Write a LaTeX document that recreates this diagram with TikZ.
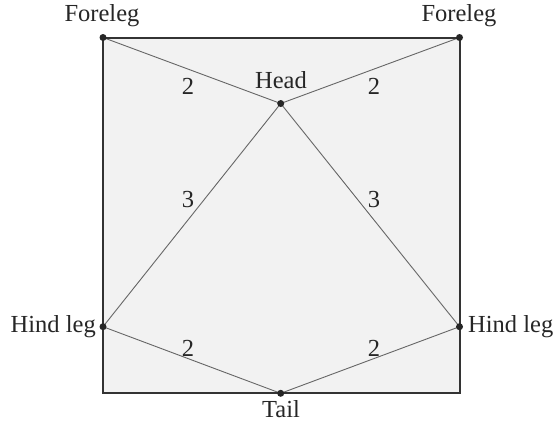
\documentclass[tikz,border=0pt]{standalone}
\usepackage{fontspec}
\setmainfont{Liberation Serif}
\begin{document}
\begin{tikzpicture}[x=1pt,y=-1pt,
  dot/.style={circle,fill=black!85,inner sep=0pt,minimum size=7pt},
  edge/.style={draw=black!60,line width=0.9pt},
  lbl/.style={font=\fontsize{24.5}{28}\selectfont,text=black!85,inner sep=0pt},
  num/.style={font=\fontsize{24.5}{28}\selectfont,text=black!85,inner sep=0pt}]
\useasboundingbox (0,0) rectangle (555,421);
\fill[black!5] (103,37.5) rectangle (459.5,393.3);
\coordinate (FL) at (103,37.5);
\coordinate (FR) at (459.5,37.5);
\coordinate (H) at (280.7,103.5);
\coordinate (HL) at (103,326.7);
\coordinate (HR) at (459.5,326.7);
\coordinate (T) at (280.7,393.3);
\draw[edge] (FL) -- (H) -- (FR);
\draw[edge] (HL) -- (H) -- (HR);
\draw[edge] (HL) -- (T) -- (HR);
\draw[black!80,line width=2pt] (FL) rectangle (459.5,393.3);
\node[dot] (dFL) at (FL) {};
\node[dot] (dFR) at (FR) {};
\node[dot] (dH) at (H) {};
\node[dot] (dHL) at (HL) {};
\node[dot] (dHR) at (HR) {};
\node[dot] (dT) at (T) {};
\node[lbl] (tFL) at (102,16) {Foreleg};
\node[lbl] (tFR) at (459,16) {Foreleg};
\node[lbl] (tH) at (281,80) {Head};
\node[lbl,anchor=east] (tHL) at (96,327) {Hind leg};
\node[lbl,anchor=west] (tHR) at (468,327) {Hind leg};
\node[lbl] (tT) at (281,409) {Tail};
\node[num] (n1) at (188,86) {2};
\node[num] (n2) at (374,86) {2};
\node[num] (n3) at (188,200) {3};
\node[num] (n4) at (374,200) {3};
\node[num] (n5) at (188,348) {2};
\node[num] (n6) at (374,348) {2};
\end{tikzpicture}
\end{document}
